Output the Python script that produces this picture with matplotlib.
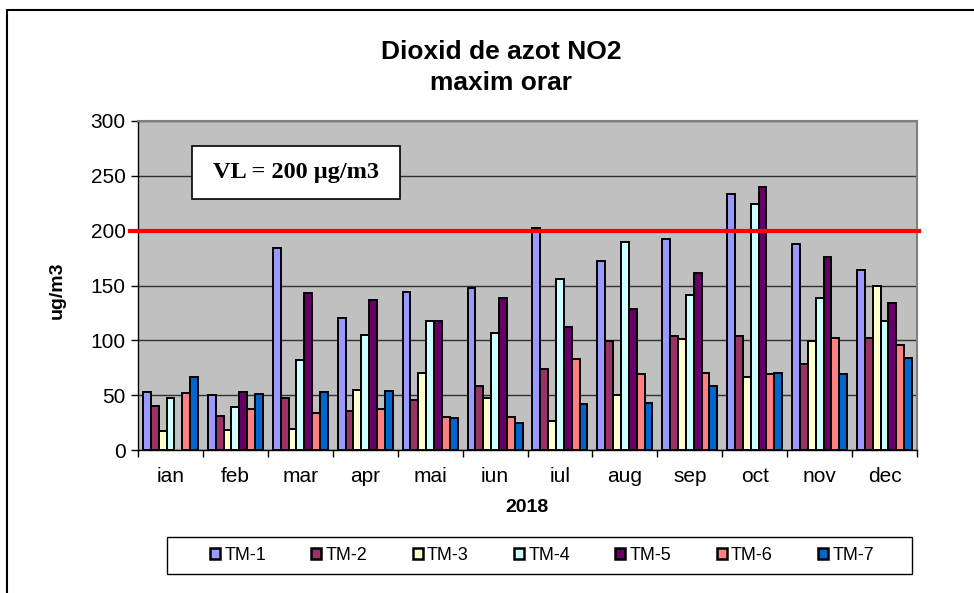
import numpy as np
import matplotlib
matplotlib.use("Agg")
import matplotlib.pyplot as plt
from matplotlib.patches import Rectangle

months = ["ian", "feb", "mar", "apr", "mai", "iun", "iul", "aug", "sep", "oct", "nov", "dec"]
series_names = ["TM-1", "TM-2", "TM-3", "TM-4", "TM-5", "TM-6", "TM-7"]
tm1 = [53, 50, 184, 120, 144, 148, 202, 172, 192, 233, 188, 164]
tm2 = [40, 31, 47, 36, 46, 58, 74, 99, 104, 104, 78, 102]
tm3 = [17, 18, 19, 55, 70, 47, 26, 50, 101, 67, 99, 150]
tm4 = [47, 39, 82, 105, 118, 107, 156, 190, 141, 224, 139, 118]
tm5 = [np.nan, 53, 143, 137, 118, 139, 112, 129, 161, 240, 176, 134]
tm6 = [52, 37, 34, 37, 30, 30, 83, 69, 70, 69, 102, 96]
tm7 = [67, 51, 53, 54, 29, 25, 42, 43, 58, 70, 69, 84]
limit_value = 200
colors = ["#9999FF", "#993366", "#FFFFCC", "#CCFFFF", "#660066", "#FF8080", "#0066CC"]

plt.rcParams['font.family'] = ['Liberation Sans', 'DejaVu Sans']

fig = plt.figure(figsize=(9.74, 5.93), dpi=100)
ax = fig.add_axes([138/974, 1-450/593, (917-138)/974, (450-121)/593])
ax.set_facecolor("#C0C0C0")

data = [tm1, tm2, tm3, tm4, tm5, tm6, tm7]
x = np.arange(len(months))
w = 0.121
for i, (vals, c, name) in enumerate(zip(data, colors, series_names)):
    ax.bar(x + (i - 3) * w, vals, width=w, color=c, edgecolor="black",
           linewidth=1.4, label=name, zorder=3)

ax.set_xlim(-0.5, 11.5)
ax.set_ylim(0, 300)
ax.set_yticks(np.arange(0, 301, 50))
ax.yaxis.grid(True, color="#303030", linewidth=1.0, zorder=0)
ax.set_axisbelow(True)
ax.set_xticks(np.arange(-0.5, 12, 1))
ax.set_xticklabels([])
ax.set_xticks(x, minor=True)
ax.set_xticklabels(months, minor=True, fontsize=15)
ax.tick_params(axis="x", which="minor", length=0, pad=12)
ax.tick_params(axis="x", which="major", length=5, width=1, direction="out")
ax.tick_params(axis="y", length=5, width=1, direction="out", labelsize=15, pad=4)

for s in ["top", "right"]:
    ax.spines[s].set_color("#808080")
    ax.spines[s].set_linewidth(1.5)
for s in ["left", "bottom"]:
    ax.spines[s].set_color("black")
    ax.spines[s].set_linewidth(1.0)

ax.plot([-0.01, 1.003], [limit_value, limit_value], color="#FF0000", linewidth=3,
        transform=ax.get_yaxis_transform(), clip_on=False, zorder=5)

# VL annotation box
ax.add_patch(Rectangle((0.0693, 0.763), 0.267, 0.161, transform=ax.transAxes,
                       facecolor="white", edgecolor="black", linewidth=1.2, zorder=6))
ax.text(0.0693 + 0.267/2, 0.763 + 0.161/2, "VL = 200 µg/m3", transform=ax.transAxes,
        ha="center", va="center", fontsize=17.5, fontweight="bold",
        family=["Liberation Serif", "DejaVu Serif"], zorder=7)

fig.text(501/974, 1-52/593, "Dioxid de azot NO2", ha="center", va="center",
         fontsize=19, fontweight="bold")
fig.text(501/974, 1-83/593, "maxim orar", ha="center", va="center",
         fontsize=19, fontweight="bold")
fig.text(527/974, 1-508/593, "2018", ha="center", va="center", fontsize=14, fontweight="bold")
fig.text(57/974, 1-290/593, "ug/m3", ha="center", va="center", fontsize=14,
         fontweight="bold", rotation=90)

leg_handles = [Rectangle((0, 0), 1, 1, facecolor=c, edgecolor="black", linewidth=1.8) for c in colors]
leg = fig.legend(leg_handles, series_names, loc="center", ncol=7,
                 bbox_to_anchor=(542/974, 1-555.5/593), fontsize=13,
                 frameon=False,
                 handlelength=0.55, handleheight=0.55, handletextpad=0.25,
                 columnspacing=2.5, borderpad=0.4)

fig.patches.append(Rectangle((167/974, 1-574/593), (912-167)/974, (574-537)/593,
                             transform=fig.transFigure, fill=False, edgecolor="black",
                             linewidth=1.0))
fig.patches.append(Rectangle((6.5/974, -0.1), 1.2, 1 - 10.5/593 + 0.1, transform=fig.transFigure,
                             fill=False, edgecolor="black", linewidth=1.5))

fig.savefig("out.png", dpi=100)
